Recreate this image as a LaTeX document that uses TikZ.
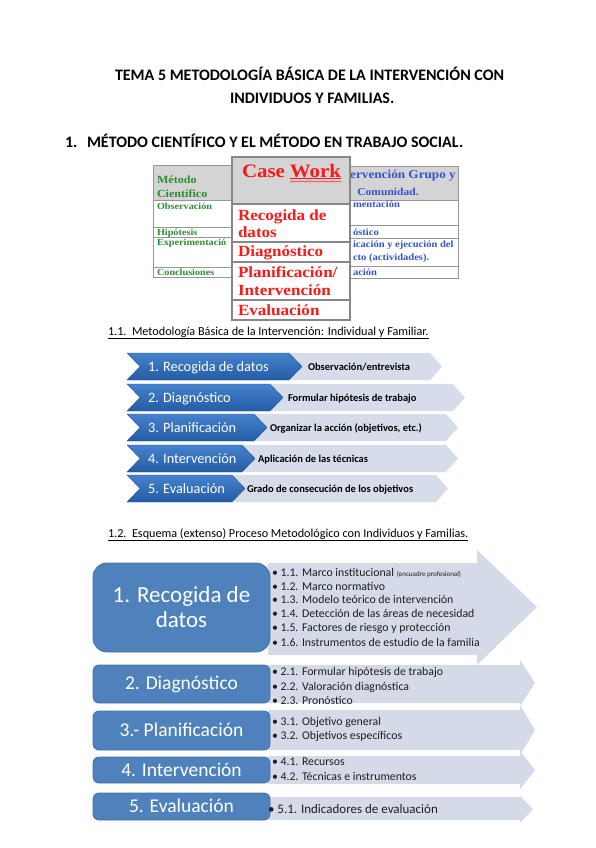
\documentclass[tikz,border=0pt]{standalone}
\usepackage{fontspec}
\setmainfont{Carlito}
\newfontfamily\camb{Liberation Serif}[FakeStretch=1.1]
\usetikzlibrary{decorations.pathmorphing}
\definecolor{greenT}{RGB}{46,139,52}
\definecolor{blueT}{RGB}{51,85,204}
\definecolor{redT}{RGB}{250,25,25}
\definecolor{grayH}{RGB}{212,212,212}
\definecolor{lineG}{RGB}{150,150,150}
\definecolor{chevTop}{RGB}{70,130,205}
\definecolor{chevBot}{RGB}{36,92,165}
\definecolor{chevLight}{RGB}{214,220,234}
\definecolor{boxBlue}{RGB}{79,129,189}
\definecolor{boxEdge}{RGB}{65,113,165}
\definecolor{arrowL}{RGB}{212,218,232}
\definecolor{txtD}{RGB}{30,30,30}
\tikzset{
  lbl/.style={anchor=base west,inner sep=0pt,outer sep=0pt},
  ttl/.style={lbl,font=\fontsize{16}{18}\selectfont\bfseries},
  tgreen/.style={lbl,text=greenT,font=\camb\bfseries\fontsize{9.3}{11}\selectfont},
  tgreenH/.style={lbl,text=greenT,font=\camb\bfseries\fontsize{11}{13}\selectfont},
  tblue/.style={lbl,text=blueT,font=\camb\bfseries\fontsize{9.6}{11}\selectfont},
  tblueH/.style={inner sep=0pt,text=blueT,font=\camb\bfseries\fontsize{12}{13}\selectfont},
  tred/.style={lbl,text=redT,font=\camb\bfseries\fontsize{15.5}{18}\selectfont},
  cell/.style={draw=lineG,line width=1pt},
  darkchev/.style={top color=chevTop,bottom color=chevBot,draw=chevBot!80!black,line width=0.3pt},
  lightchev/.style={fill=chevLight},
  chevtxt/.style={lbl,text=white,font=\fontsize{14.3}{16}\selectfont},
  chevsub/.style={lbl,text=black,font=\bfseries\fontsize{10.5}{12}\selectfont},
  bbox/.style={fill=boxBlue,draw=boxEdge,line width=0.8pt},
  btxt/.style={anchor=center,inner sep=0pt,text=white,align=center},
  bul/.style={lbl,text=txtD,font=\fontsize{11.8}{13}\selectfont},
  sub/.style={lbl,font=\fontsize{12.2}{14}\selectfont}
}
\newcommand{\chevr}[6]{% left, right point, top, bottom, depth, style
  \path[#6] (#1,#3) -- ({#2-#5},#3) -- (#2,{(#3+#4)/2}) -- ({#2-#5},#4) -- (#1,#4) -- ({#1+#5},{(#3+#4)/2}) -- cycle;}
\begin{document}
\begin{tikzpicture}[x=1pt,y=-1pt]
\useasboundingbox (0,0) rectangle (596,848);
\fill[white] (0,0) rectangle (596,848);

% ---------- titles ----------
\node[ttl] (t1) at (115,81) {TEMA 5 METODOLOGÍA BÁSICA DE LA INTERVENCIÓN CON};
\node[ttl] (t2) at (230,104) {INDIVIDUOS Y FAMILIAS.};
\node[ttl] (h1n) at (65,147) {1.};
\node[ttl] (h1) at (87,147) {MÉTODO CIENTÍFICO Y EL MÉTODO EN TRABAJO SOCIAL.};

% ---------- left table ----------
\fill[grayH] (153,165) rectangle (300,200);
\draw[cell] (153,165) rectangle (300,277);
\foreach \yy in {200,227,237,267} \draw[cell] (153,\yy) -- (300,\yy);
\node[tgreenH] (mc1) at (157,183) {Método};
\node[tgreenH] (mc2) at (157,197) {Científico};
\node[tgreen] (lo) at (157,209) {Observación};
\node[tgreen] (lh) at (157,235) {Hipótesis};
\node[tgreen] (le) at (157,245) {Experimentació};
\node[tgreen] (lc) at (157,275) {Conclusiones};

% ---------- right table (partly hidden behind Case Work) ----------
\fill[grayH] (322,166) rectangle (458,200);
\draw[cell] (322,166) rectangle (458,278);
\foreach \yy in {200,225,238,266} \draw[cell] (322,\yy) -- (458,\yy);
\node[tblueH,anchor=base east] (rh1) at (456,178) {ervención Grupo y};
\node[tblueH,anchor=base,font=\camb\bfseries\fontsize{10.5}{12}\selectfont] (rh2) at (388,195) {Comunidad.};
\node[tblue] (ri) at (353,207) {mentación};
\node[tblue] (rd) at (353,235) {óstico};
\node[tblue] (rp1) at (353,247) {icación y ejecución del};
\node[tblue] (rp2) at (353,260) {cto (actividades).};
\node[tblue] (rev) at (353,275) {ación};

% ---------- Case Work overlay ----------
\fill[white] (232,157) rectangle (350,320);
\fill[grayH] (232,157) rectangle (350,204);
\begin{scope}
\clip (232,157) rectangle (349,320);
\node[tred,font=\camb\bfseries\fontsize{19}{22}\selectfont] (cw) at (242,177) {Case};
\node[tred,font=\camb\bfseries\fontsize{19}{22}\selectfont] (wk) at ([xshift=5pt]cw.base east) {\underline{Work}};
\draw[redT,line width=0.5pt,decorate,decoration={snake,amplitude=0.6pt,segment length=2.5pt}] ([yshift=-4.5pt]wk.base west) -- ([yshift=-4.5pt]wk.base east);
\node[tred] (cr1) at (238,220) {Recogida de};
\node[tred] (cr2) at (238,237) {datos};
\node[tred] (cd) at (238,256) {Diagnóstico};
\node[tred] (cp) at (238,277) {Planificación/};
\node[tred] (ci) at (238,295) {Intervención};
\node[tred] (ce) at (238,315) {Evaluación};
\end{scope}
\draw[draw=lineG!90!black,line width=1.6pt] (232,157) rectangle (350,320);
\foreach \yy in {204,242,262,300} \draw[draw=lineG!90!black,line width=1.2pt] (232,\yy) -- (350,\yy);

% ---------- 1.1 ----------
\node[sub] (s11) at (108,335) {\underline{1.1.\ \ Metodología Básica de la Intervención: Individual y Familiar.}};

\chevr{290}{442}{353}{380}{12}{lightchev}
\chevr{127}{302}{353}{380}{13}{darkchev}
\chevr{271}{465}{384}{411}{12}{lightchev}
\chevr{127}{283}{384}{411}{13}{darkchev}
\chevr{255}{458}{414}{441}{12}{lightchev}
\chevr{127}{267}{414}{441}{13}{darkchev}
\chevr{243}{458}{445}{472}{12}{lightchev}
\chevr{127}{255}{445}{472}{13}{darkchev}
\chevr{233}{448}{475}{502}{12}{lightchev}
\chevr{127}{245}{475}{502}{13}{darkchev}

\node[chevtxt] (c1) at (148,371) {1. Recogida de datos};
\node[chevtxt] (c2) at (148,402) {2. Diagnóstico};
\node[chevtxt] (c3) at (148,432) {3. Planificación};
\node[chevtxt] (c4) at (148,463) {4. Intervención};
\node[chevtxt] (c5) at (148,493) {5. Evaluación};
\node[chevsub] (d1) at (308,370) {Observación/entrevista};
\node[chevsub] (d2) at (288,401) {Formular hipótesis de trabajo};
\node[chevsub] (d3) at (270,431) {Organizar la acción (objetivos, etc.)};
\node[chevsub] (d4) at (258,462) {Aplicación de las técnicas};
\node[chevsub] (d5) at (247,492) {Grado de consecución de los objetivos};

% ---------- 1.2 ----------
\node[sub] (s12) at (108,537) {\underline{1.2.\ \ Esquema (extenso) Proceso Metodológico con Individuos y Familias.}};

\fill[arrowL] (268,563) -- (477,563) -- (477,550) -- (537,607) -- (477,665) -- (477,655) -- (268,655) -- cycle;
\fill[arrowL] (268,665) -- (520,665) -- (520,660) -- (535,683) -- (520,706) -- (520,703) -- (268,703) -- cycle;
\fill[arrowL] (268,710) -- (520,710) -- (520,705) -- (535,730) -- (520,755) -- (520,750) -- (268,750) -- cycle;
\fill[arrowL] (268,756) -- (520,756) -- (520,751) -- (535,770) -- (520,789) -- (520,784) -- (268,784) -- cycle;
\fill[arrowL] (268,797) -- (520,797) -- (520,796) -- (533,809) -- (520,823) -- (520,820) -- (268,820) -- cycle;

\path[bbox,rounded corners=14pt] (93,563) rectangle (270,652);
\path[bbox,rounded corners=6pt] (93,665) rectangle (270,703);
\path[bbox,rounded corners=6pt] (93,711) rectangle (270,750);
\path[bbox,rounded corners=6pt] (93,757) rectangle (270,783);
\path[bbox,rounded corners=6pt] (93,793) rectangle (270,820);

\node[btxt,font=\fontsize{23}{25}\selectfont] (b1) at (181.5,607) {1. Recogida de\\datos};
\node[btxt,font=\fontsize{19.5}{21}\selectfont] (b2) at (181.5,684) {2. Diagnóstico};
\node[btxt,font=\fontsize{19.5}{21}\selectfont] (b3) at (181.5,730) {3.- Planificación};
\node[btxt,font=\fontsize{19.5}{21}\selectfont] (b4) at (181.5,770) {4. Intervención};
\node[btxt,font=\fontsize{19.5}{21}\selectfont] (b5) at (181.5,806) {5. Evaluación};

\node[bul] (e11) at (272,576) {\textbullet\ 1.1. Marco institucional {\fontsize{7}{8}\selectfont (encuadre profesional)}};
\node[bul] (e12) at (272,590) {\textbullet\ 1.2. Marco normativo};
\node[bul] (e13) at (272,603) {\textbullet\ 1.3. Modelo teórico de intervención};
\node[bul] (e14) at (272,617) {\textbullet\ 1.4. Detección de las áreas de necesidad};
\node[bul] (e15) at (272,631) {\textbullet\ 1.5. Factores de riesgo y protección};
\node[bul] (e16) at (272,646) {\textbullet\ 1.6. Instrumentos de estudio de la familia};

\node[bul] (e21) at (272,675) {\textbullet\ 2.1. Formular hipótesis de trabajo};
\node[bul] (e22) at (272,690) {\textbullet\ 2.2. Valoración diagnóstica};
\begin{scope}
\clip (268,665) rectangle (520,703);
\node[bul] (e23) at (272,704) {\textbullet\ 2.3. Pronóstico};
\end{scope}
\node[bul] (e31) at (272,725) {\textbullet\ 3.1. Objetivo general};
\node[bul] (e32) at (272,739) {\textbullet\ 3.2. Objetivos específicos};
\node[bul] (e41) at (272,765) {\textbullet\ 4.1. Recursos};
\node[bul] (e42) at (272,780) {\textbullet\ 4.2. Técnicas e instrumentos};
\node[bul,font=\fontsize{13}{15}\selectfont] (e51) at (268,813) {\textbullet\ 5.1. Indicadores de evaluación};
\end{tikzpicture}
\end{document}
